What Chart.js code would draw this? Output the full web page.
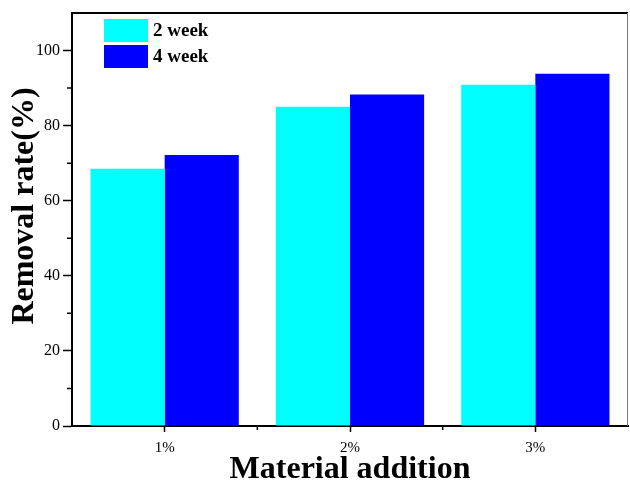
<!DOCTYPE html>
<html>
<head>
<meta charset="utf-8">
<script src="https://cdn.jsdelivr.net/npm/chart.js@4"></script>
<style>
  html, body { margin: 0; padding: 0; background: #fff; }
  #wrap { width: 630px; height: 483px; }
</style>
</head>
<body>
<div id="wrap"><canvas id="chart" width="630" height="483"></canvas></div>
<script>
const categories = ['1%', '2%', '3%'];
const week2 = [68.5, 85.0, 90.9];
const week4 = [72.2, 88.3, 93.8];
const seriesNames = ['2 week', '4 week'];
const yTicks = [0, 20, 40, 60, 80, 100];

const serif = '"Liberation Serif", "Times New Roman", serif';

// frame, minor ticks, y title and legend box drawn over the scales
const decorations = {
    id: 'decorations',
    afterDraw(chart) {
        const ctx = chart.ctx;
        const area = chart.chartArea;
        const x = chart.scales.x;
        const y = chart.scales.y;
        ctx.save();

        // top and right border
        ctx.strokeStyle = '#000';
        ctx.lineWidth = 2;
        ctx.beginPath();
        ctx.moveTo(area.left, area.top);
        ctx.lineTo(area.right, area.top);
        ctx.stroke();
        ctx.strokeStyle = '#777';
        ctx.lineWidth = 1;
        ctx.beginPath();
        ctx.moveTo(area.right - 0.5, area.top);
        ctx.lineTo(area.right - 0.5, area.bottom);
        ctx.stroke();

        // minor ticks
        ctx.strokeStyle = '#000';
        ctx.lineWidth = 1.5;
        ctx.beginPath();
        for (let v = 10; v < 110; v += 20) {
            const py = y.getPixelForValue(v);
            ctx.moveTo(area.left, py);
            ctx.lineTo(area.left - 5, py);
        }
        for (let i = 0; i < categories.length - 1; i++) {
            const px = (x.getPixelForValue(i) + x.getPixelForValue(i + 1)) / 2;
            ctx.moveTo(px, area.bottom);
            ctx.lineTo(px, area.bottom + 4);
        }
        ctx.stroke();

        // y axis title (sits a little above the axis middle in the original)
        ctx.save();
        ctx.translate(25, 206);
        ctx.rotate(-Math.PI / 2);
        ctx.font = 'bold 32px ' + serif;
        ctx.textAlign = 'center';
        ctx.textBaseline = 'middle';
        ctx.fillStyle = '#000';
        ctx.fillText('Removal rate(%)', 0, 0);
        ctx.restore();

        // legend
        ctx.font = 'bold 19px ' + serif;
        ctx.textBaseline = 'middle';
        chart.data.datasets.forEach((ds, i) => {
            const top = 19 + i * 26;
            ctx.fillStyle = ds.backgroundColor;
            ctx.fillRect(104, top, 44, 23);
            ctx.fillStyle = '#000';
            ctx.fillText(ds.label, 153, top + 12);
        });
        ctx.restore();
    }
};

new Chart(document.getElementById('chart'), {
    type: 'bar',
    data: {
        labels: categories,
        datasets: [
            { label: seriesNames[0], data: week2, backgroundColor: '#00ffff' },
            { label: seriesNames[1], data: week4, backgroundColor: '#0000ff' }
        ]
    },
    options: {
        responsive: false,
        animation: false,
        layout: { padding: { top: 13, right: 2, left: 0, bottom: 0 } },
        datasets: {
            bar: { categoryPercentage: 0.8, barPercentage: 1.0, borderWidth: 0 }
        },
        plugins: {
            legend: { display: false },
            tooltip: { enabled: false }
        },
        scales: {
            x: {
                afterFit: s => { s.height = 57; },
                grid: { drawOnChartArea: false, tickLength: 6, tickWidth: 1.5, tickColor: '#000', offset: false },
                border: { color: '#000', width: 2 },
                ticks: { color: '#000', font: { family: serif, size: 15 }, padding: 7 },
                title: {
                    display: true,
                    text: 'Material addition',
                    color: '#000',
                    font: { family: serif, size: 32, weight: 'bold', lineHeight: 0.8 },
                    padding: { top: 0, bottom: 0 }
                }
            },
            y: {
                min: 0,
                max: 110,
                afterFit: s => { s.width = 72; },
                afterBuildTicks: s => { s.ticks = yTicks.map(v => ({ value: v })); },
                grid: { drawOnChartArea: false, tickLength: 9, tickWidth: 1.5, tickColor: '#000' },
                border: { color: '#000', width: 2 },
                ticks: { color: '#000', font: { family: serif, size: 16 }, padding: 3 }
            }
        }
    },
    plugins: [decorations]
});
</script>
</body>
</html>
